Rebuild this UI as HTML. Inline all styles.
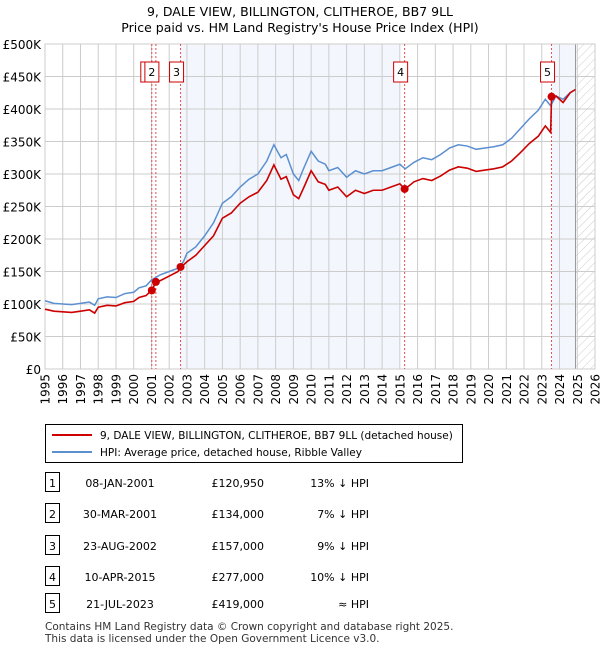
<!DOCTYPE html>
<html><head><meta charset="utf-8"><style>
body{margin:0;background:#fff;font-family:"Liberation Sans","DejaVu Sans",sans-serif;}
#wrap{position:relative;width:600px;height:650px;overflow:hidden;}
svg text{font-family:"DejaVu Sans","Liberation Sans",sans-serif;}
</style></head><body>
<div id="wrap">
<svg id="chart" width="600" height="650">
<defs><pattern id="hatch" width="6" height="6" patternUnits="userSpaceOnUse" patternTransform="rotate(45)"><line x1="0" y1="0" x2="0" y2="6" stroke="#ccc" stroke-width="1"/></pattern></defs>
<text x="300" y="16" text-anchor="middle" font-size="12.5">9, DALE VIEW, BILLINGTON, CLITHEROE, BB7 9LL</text>
<text x="300" y="32" text-anchor="middle" font-size="12.5">Price paid vs. HM Land Registry's House Price Index (HPI)</text>
<g id="plot"></g>
<g>
<rect x="45.5" y="424.5" width="417" height="38" fill="#fff" stroke="#000" stroke-width="1"/>
<line x1="52" y1="435" x2="92" y2="435" stroke="#cc0000" stroke-width="2"/>
<text x="100" y="439" font-size="10.5">9, DALE VIEW, BILLINGTON, CLITHEROE, BB7 9LL (detached house)</text>
<line x1="52" y1="452" x2="92" y2="452" stroke="#5b8fd0" stroke-width="2"/>
<text x="100" y="456" font-size="10.5">HPI: Average price, detached house, Ribble Valley</text>
</g>
<g id="table"></g>
<text x="45" y="630" font-size="10.5" fill="#333">Contains HM Land Registry data © Crown copyright and database right 2025.</text>
<text x="45" y="642" font-size="10.5" fill="#333">This data is licensed under the Open Government Licence v3.0.</text>
</svg>
</div>
<script>
const dates=[1995,1995.5,1996,1996.5,1997,1997.5,1997.8,1998,1998.5,1999,1999.5,2000,2000.3,2000.7,2001,2001.5,2002,2002.5,2002.8,2003,2003.5,2004,2004.5,2005,2005.5,2006,2006.5,2007,2007.5,2007.9,2008.3,2008.6,2009,2009.3,2009.6,2010,2010.4,2010.8,2011,2011.5,2012,2012.5,2013,2013.5,2014,2014.5,2015,2015.3,2015.8,2016.3,2016.8,2017.3,2017.8,2018.3,2018.8,2019.3,2019.8,2020.3,2020.8,2021.3,2021.8,2022.3,2022.8,2023.2,2023.5,2023.8,2024.2,2024.6,2024.9];
const hpiValues=[105,101,100,99,101,103,98,108,111,110,116,118,125,128,137,145,150,155,165,178,188,205,225,255,265,280,292,300,320,345,325,330,300,290,310,335,320,315,305,310,295,305,300,305,305,310,315,308,318,325,322,330,340,345,343,338,340,342,345,355,370,385,398,415,405,420,415,425,430];
const priceValues=[92,89,88,87,89,91,86,95,98,97,102,104,110,113,121,136,143,150,160,165,175,190,205,232,240,255,265,272,290,314,292,296,268,262,280,305,288,284,275,280,265,275,270,275,275,280,285,277,288,293,290,297,306,311,309,304,306,308,311,320,333,347,358,374,364,420,410,425,430];
const saleDates=[2001.02,2001.25,2002.64,2015.27,2023.55];
const saleValues=[120950,134000,157000,277000,419000];
const saleLabels=["08-JAN-2001","30-MAR-2001","23-AUG-2002","10-APR-2015","21-JUL-2023"];
const salePrices=["£120,950","£134,000","£157,000","£277,000","£419,000"];
const saleHpi=["13% ↓ HPI","7% ↓ HPI","9% ↓ HPI","10% ↓ HPI","≈ HPI"];
const yTicks=[0,50,100,150,200,250,300,350,400,450,500];
const yTickLabels=["£0","£50K","£100K","£150K","£200K","£250K","£300K","£350K","£400K","£450K","£500K"];
const xYears=[1995,1996,1997,1998,1999,2000,2001,2002,2003,2004,2005,2006,2007,2008,2009,2010,2011,2012,2013,2014,2015,2016,2017,2018,2019,2020,2021,2022,2023,2024,2025,2026];

const NS="http://www.w3.org/2000/svg";
const L=45,R=595,T=44,B=369;
const xs=y=>L+(y-1995)/(2026-1995)*(R-L);
const ys=v=>B-v/500*(B-T);
const plot=document.getElementById('plot');
function mk(tag,attrs,parent){const e=document.createElementNS(NS,tag);for(const k in attrs)e.setAttribute(k,attrs[k]);(parent||plot).appendChild(e);return e;}

let s1=mk('rect',{x:xs(2002.64),y:T,width:xs(2015.0)-xs(2002.64),height:B-T,fill:'#eef3fc',opacity:0.7});


let s2=mk('rect',{x:xs(2023.55),y:T,width:xs(2024.9)-xs(2023.55),height:B-T,fill:'#eef3fc',opacity:0.7});


let h=mk('rect',{x:xs(2024.9),y:T,width:R-xs(2024.9),height:B-T,fill:'url(#hatch)'});


yTicks.forEach((v,i)=>{
  mk('line',{x1:L,x2:R,y1:ys(v),y2:ys(v),stroke:'#ccc','stroke-width':1});
  const t=mk('text',{x:L-4,y:ys(v)+5,'text-anchor':'end','font-size':12});
  t.textContent=yTickLabels[i];
  
  
});
xYears.forEach(y=>{
  mk('line',{x1:xs(y),x2:xs(y),y1:T,y2:B,stroke:'#ccc','stroke-width':1});
  const x=xs(y)+4.5, yy=B+5;
  const t=mk('text',{x:x,y:yy,'text-anchor':'end','font-size':12,transform:'rotate(-90 '+x+' '+yy+')'});
  t.textContent=y;
  
  
});
mk('line',{x1:xs(2024.9),x2:xs(2024.9),y1:T,y2:B,stroke:'#999','stroke-width':1});
mk('rect',{x:L,y:T,width:R-L,height:B-T,fill:'none',stroke:'#ccc'});
saleDates.forEach(d=>{
  const l=mk('line',{x1:xs(d),x2:xs(d),y1:T,y2:B,stroke:'#e05050','stroke-width':1,'stroke-dasharray':'2,2'});
  
  
});
const hp=mk('polyline',{points:dates.map((d,i)=>xs(d)+','+ys(hpiValues[i])).join(' '),fill:'none',stroke:'#5b8fd0','stroke-width':1.5});


const pts=dates.map((d,i)=>[d,priceValues[i]]).concat(saleDates.map((d,i)=>[d,saleValues[i]/1000])).sort((a,b)=>a[0]-b[0]);
const pp=mk('polyline',{points:pts.map(p=>xs(p[0])+','+ys(p[1])).join(' '),fill:'none',stroke:'#cc0000','stroke-width':1.6});


saleDates.forEach((d,i)=>{
  const c=mk('circle',{cx:xs(d),cy:ys(saleValues[i]/1000),r:4,fill:'#cc0000'});
  
  
  const bx=xs(d)+3-14;
  const r=mk('rect',{x:bx,y:62,width:14,height:20,fill:'#fff',stroke:'#cc0000'});
  
  
  const t=mk('text',{x:bx+7,y:76,'text-anchor':'middle','font-size':11});
  t.textContent=i+1;
  
  
});
const tb=document.getElementById('table');
const rowY=[483,514,546,577,604];
saleLabels.forEach((lab,i)=>{
  const y=rowY[i];
  const r=mk('rect',{x:45.5,y:y-10.5,width:14,height:19,fill:'#fff',stroke:'#000'},tb);
  
  
  const n=mk('text',{x:52.5,y:y+4,'text-anchor':'middle','font-size':11},tb);n.textContent=i+1;
  
  
  const a=mk('text',{x:120,y:y+4,'text-anchor':'middle','font-size':11},tb);a.textContent=lab;
  
  
  const p=mk('text',{x:264,y:y+4,'text-anchor':'end','font-size':11},tb);p.textContent=salePrices[i];
  
  
  const q=mk('text',{x:369,y:y+4,'text-anchor':'end','font-size':11},tb);q.textContent=saleHpi[i];
  
  
});
</script>
</body></html>
